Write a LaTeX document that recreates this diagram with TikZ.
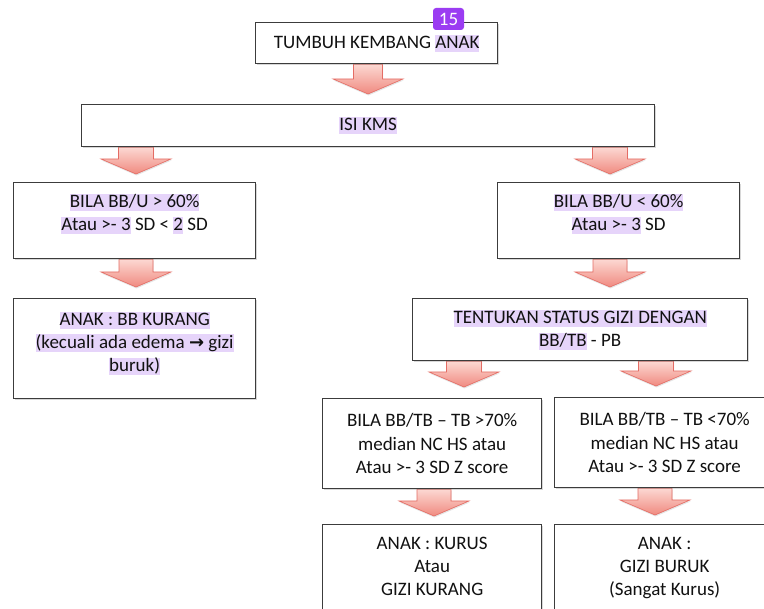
\documentclass[tikz,border=0pt]{standalone}
\usepackage{fontspec}
\setmainfont{Carlito}
\newfontfamily\djv{DejaVu Sans}
\usetikzlibrary{calc,shadows}
\definecolor{hlc}{HTML}{E6D4FA}
\definecolor{boxline}{HTML}{3C3C3C}
\definecolor{arrline}{HTML}{E46C64}
\definecolor{arrtop}{HTML}{FCD8D2}
\definecolor{arrbot}{HTML}{F08A80}
\definecolor{badgec}{HTML}{9B3CF2}
\definecolor{txt}{HTML}{111111}
\newcommand\hl[1]{{\setlength{\fboxsep}{0pt}\colorbox{hlc}{\vrule height 13.5pt depth 3.5pt width 0pt #1}}}
\pgfdeclarelayer{bg}
\pgfsetlayers{bg,main}
\tikzset{
  box/.style={draw=boxline, line width=1.3pt, fill=white, align=center,
    anchor=north west, inner sep=0pt, font=\fontsize{19}{23.2}\selectfont,
    text=txt, drop shadow={shadow xshift=1pt, shadow yshift=-1pt, opacity=0.3}},
  barrowstyle/.style={draw=arrline, line width=0.6pt, top color=arrtop,
    bottom color=arrbot, drop shadow={shadow xshift=0.5pt, shadow yshift=-1.5pt, opacity=0.2}},
}
% #1 x centre, #2 source node, #3 target node, #4 gap above target, #5 half shaft width
\newcommand\barrow[5]{%
  \path[barrowstyle] let \p1=(#2.south), \p2=(#3.north) in
    (#1pt-#5pt,\y1) -- (#1pt-#5pt,\y2+#4pt+15pt) -- (#1pt-35pt,\y2+#4pt+15pt)
    -- (#1pt,\y2+#4pt) -- (#1pt+35pt,\y2+#4pt+15pt) -- (#1pt+#5pt,\y2+#4pt+15pt)
    -- (#1pt+#5pt,\y1) -- cycle;}
\begin{document}
\begin{tikzpicture}[x=1pt,y=-1pt]
\useasboundingbox (0,0) rectangle (764,609);
\clip (0,0) rectangle (764,609);

\node[box, minimum width=242pt, minimum height=41pt] (b1) at (255,22) {TUMBUH KEMBANG \hl{ANAK}};
\node[box, minimum width=573pt, minimum height=42pt] (b2) at (81,104) {\hl{ISI KMS}};
\node[box, minimum width=242pt, minimum height=76pt] (b3l) at (13,182)
  {\hl{BILA BB/U > 60\%}\\\hl{Atau >- 3} SD < \hl{2} SD\\[-7pt]\mbox{}};
\node[box, minimum width=242pt, minimum height=76pt] (b3r) at (497,182)
  {\hl{BILA BB/U < 60\%}\\\hl{Atau >- 3} SD\\[-7pt]\mbox{}};
\node[box, minimum width=242pt, minimum height=100pt] (b4l) at (13,298)
  {\hl{ANAK : BB KURANG}\\\hl{(kecuali ada edema {\djv\bfseries\fontsize{18}{18}\selectfont →} gizi}\\\hl{buruk)}\\[-9pt]\mbox{}};
\node[box, minimum width=335pt, minimum height=62pt] (b4r) at (412,298)
  {\hl{TENTUKAN STATUS GIZI DENGAN}\\\hl{BB/TB} - PB};
\node[box, minimum width=219pt, minimum height=90pt] (b5l) at (322,398)
  {BILA BB/TB – TB >70\%\\median NC HS atau\\Atau >- 3 SD Z score};
\node[box, minimum width=220pt, minimum height=90pt] (b5r) at (554,397)
  {BILA BB/TB – TB <70\%\\median NC HS atau\\Atau >- 3 SD Z score};
\node[box, minimum width=219pt, minimum height=107pt] (b6l) at (322,524)
  {ANAK : KURUS\\Atau\\GIZI KURANG\\\mbox{}};
\node[box, minimum width=220pt, minimum height=107pt] (b6r) at (554,524)
  {ANAK :\\GIZI BURUK\\(Sangat Kurus)\\\mbox{}};

\node[fill=badgec, rounded corners=3pt, minimum width=31pt, minimum height=22pt,
  inner sep=0pt, text=white, font=\fontsize{19}{19}\selectfont] (badge) at (448.5,19) {15};

\begin{pgfonlayer}{bg}
\fill[white] (0,0) rectangle (764,609);
\barrow{368}{b1}{b2}{10}{14.5}
\barrow{136}{b2}{b3l}{8}{17.5}
\barrow{610}{b2}{b3r}{8}{17.5}
\barrow{136}{b3l}{b4l}{11}{17}
\barrow{610}{b3r}{b4r}{11}{17}
\barrow{464}{b4r}{b5l}{11}{17.5}
\barrow{656}{b4r}{b5r}{11}{17.5}
\barrow{434}{b5l}{b6l}{8}{17}
\barrow{655}{b5r}{b6r}{9}{17}
\end{pgfonlayer}
\end{tikzpicture}
\end{document}
